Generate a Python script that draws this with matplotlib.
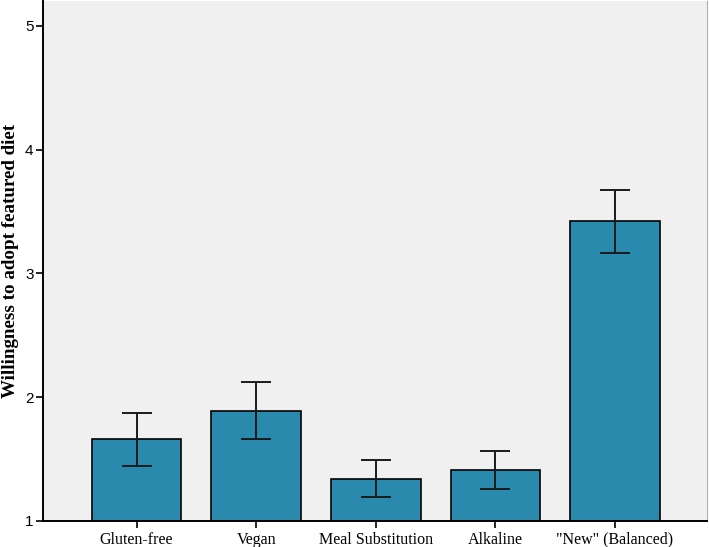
import matplotlib
matplotlib.use("Agg")
import matplotlib.pyplot as plt
import numpy as np

# diets and mean willingness with error bar ends
diets = ["Gluten-free", "Vegan", "Meal Substitution", "Alkaline", '"New" (Balanced)']
means = [1.66, 1.89, 1.34, 1.41, 3.42]
err_hi = [1.87, 2.12, 1.49, 1.56, 3.67]
err_lo = [1.44, 1.66, 1.19, 1.26, 3.16]
yticks = [1, 2, 3, 4, 5]

fig = plt.figure(figsize=(7.09, 5.47), dpi=100)
ax = fig.add_axes([0.0611, 0.048, 0.9356, 0.950])
ax.set_facecolor("#f0f0f0")

x = np.arange(len(diets))
m = np.array(means)
yerr = [m - np.array(err_lo), np.array(err_hi) - m]

ax.bar(x, m - 1, bottom=1, width=0.75, color="#2a8aae",
       edgecolor="black", linewidth=1.2, zorder=2)
ax.errorbar(x, m, yerr=yerr, fmt="none", ecolor="#1a1a1a",
            elinewidth=1.4, capsize=10.5, capthick=1.4, zorder=3)

ax.set_xlim(-0.78, 4.767)
ax.set_ylim(1, 5.2)
ax.set_yticks(yticks)
ax.set_yticklabels([str(t) for t in yticks], fontsize=11,
                   family="Liberation Sans")
ax.set_xticks(x)
ax.set_xticklabels(diets, fontsize=11.5, family="Liberation Serif")
ax.tick_params(axis="both", direction="out", length=5, width=1.2,
               color="black")
ax.tick_params(axis="y", pad=2)
ax.tick_params(axis="x", pad=3)

ax.set_ylabel("Willingness to adopt featured diet", fontsize=13.7,
              fontweight="bold", family="Liberation Serif")
# put the label where the reference has it, close to the left edge
ax.yaxis.set_label_coords(-0.036, 0.5)

ax.spines["top"].set_visible(False)
ax.spines["right"].set_color("#b0b0b0")
ax.spines["left"].set_linewidth(1.4)
ax.spines["bottom"].set_linewidth(1.4)

fig.savefig("out.png", dpi=100)
